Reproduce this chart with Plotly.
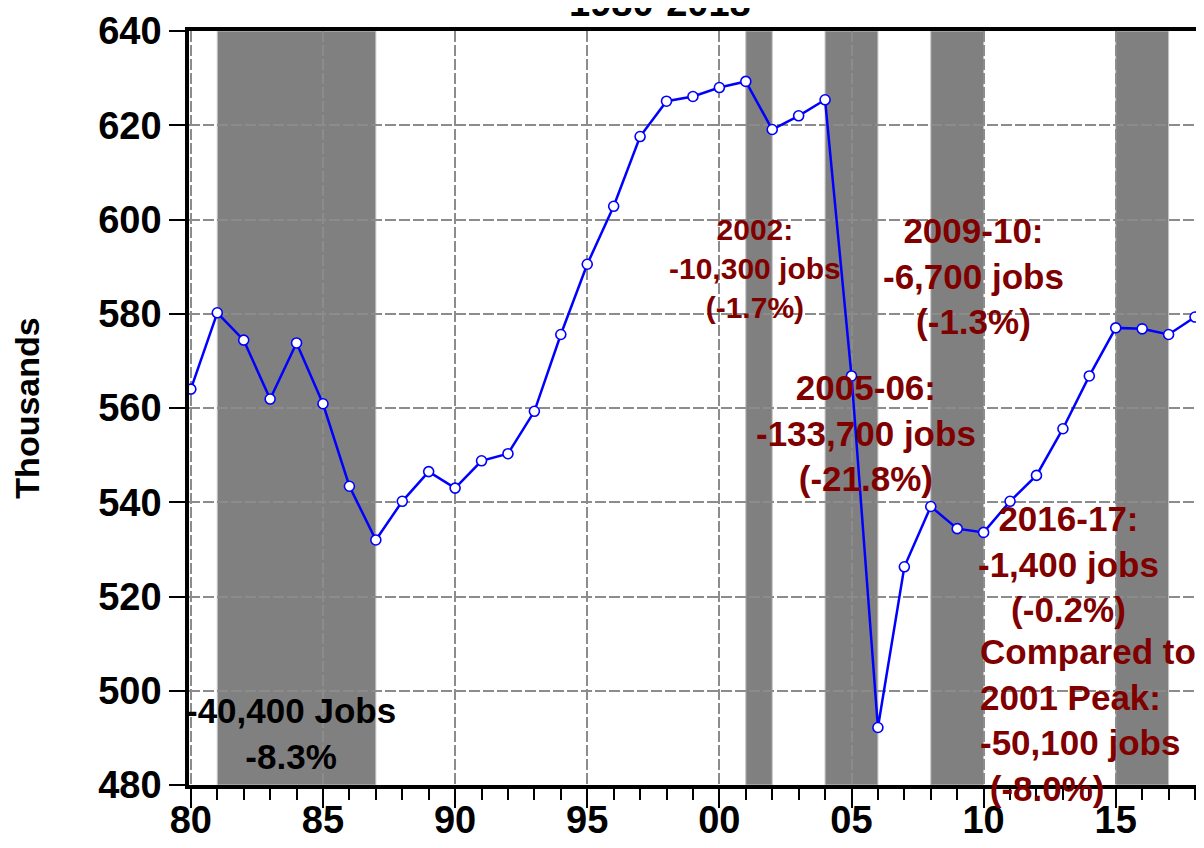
import plotly.graph_objects as go

# annual employment, thousands
years = list(range(1980, 2019))
jobs = [564.0, 580.2, 574.4, 561.9, 573.8, 560.9, 543.4, 532.0, 540.2, 546.5,
        543.0, 548.8, 550.3, 559.3, 575.6, 590.5, 602.8, 617.6, 625.1, 626.1,
        628.0, 629.3, 619.1, 622.0, 625.4, 566.8, 492.2, 526.3, 539.1, 534.4,
        533.6, 540.2, 545.7, 555.6, 566.8, 577.0, 576.8, 575.6, 579.3]

# shaded periods
shade_start = [1981, 2001, 2004, 2008, 2015]
shade_end = [1987, 2002, 2006, 2010, 2017]

xtick_vals = [1980, 1985, 1990, 1995, 2000, 2005, 2010, 2015]
xtick_text = ["80", "85", "90", "95", "00", "05", "10", "15"]
ytick_vals = [480, 500, 520, 540, 560, 580, 600, 620, 640]

FONT = "Liberation Sans, Arial, sans-serif"
RED = "#800000"

fig = go.Figure()

fig.add_trace(go.Scatter(
    x=years, y=jobs, mode="lines+markers",
    line=dict(color="#0000ff", width=2.5),
    marker=dict(symbol="circle", size=10, color="white",
                line=dict(color="#0000ff", width=1.6)),
    cliponaxis=False, showlegend=False,
))

for s, e in zip(shade_start, shade_end):
    fig.add_shape(type="rect", xref="x", yref="paper", x0=s, x1=e, y0=0, y1=1,
                  fillcolor="#808080", line=dict(color="#c4c4c4", width=1),
                  layer="between")

# text notes
notes = [
    ("-40,400 Jobs<br>-8.3%", 1983.8, 491.0, "black", 35, "center", "center"),
    ("2002:<br>-10,300 jobs<br>(-1.7%)", 2001.33, 589.7, RED, 30, "center", "center"),
    ("2009-10:<br>-6,700 jobs<br>(-1.3%)", 2009.6, 588.1, RED, 35, "center", "center"),
    ("2005-06:<br>-133,700 jobs<br>(-21.8%)", 2005.53, 554.8, RED, 35, "center", "center"),
    ("2016-17:<br>-1,400 jobs<br>(-0.2%)", 2013.2, 527.0, RED, 35, "center", "center"),
    ("Compared to<br>2001 Peak:<br>-50,100 jobs<br>\u00a0(-8.0%)", 2009.77, 493.7, RED, 35, "left", "left"),
]
for txt, x, y, col, size, align, xanchor in notes:
    fig.add_annotation(text=txt, x=x, y=y, xref="x", yref="y", showarrow=False,
                       align=align, xanchor=xanchor, yanchor="middle",
                       font=dict(family=FONT, size=size, color=col, weight="bold"))

# title sits partly above the top edge, as in the source image
fig.add_annotation(text="1980-2018", xref="paper", yref="paper", x=0.466, y=1.0371,
                   xanchor="center", yanchor="middle", showarrow=False,
                   font=dict(family=FONT, size=38, color="black", weight="bold"))

# page body adds an 8px offset, so the figure is a bit smaller than the window
fig.update_layout(
    width=1196, height=840,
    margin=dict(l=181, r=5, t=23, b=63, autoexpand=False),
    paper_bgcolor="white", plot_bgcolor="white",
    font=dict(family=FONT, color="black"),
    showlegend=False,
)

fig.update_xaxes(
    range=[1979.93, 2018.15], tickmode="array", tickvals=xtick_vals, ticktext=xtick_text,
    ticks="outside", ticklen=19, tickwidth=1.5, tickcolor="black",
    tickfont=dict(family=FONT, size=38, color="black", weight="bold"),
    ticklabelstandoff=-20,
    showline=True, linewidth=3.5, linecolor="black", mirror=True,
    showgrid=True, gridcolor="#8c8c8c", gridwidth=1.5, griddash="11px,3px",
    minor=dict(tickmode="linear", tick0=1980, dtick=1, ticks="outside", ticklen=11,
               tickwidth=1.5, tickcolor="black", showgrid=False),
    zeroline=False, automargin=False,
)
fig.update_yaxes(
    range=[480, 640], tickmode="array", tickvals=ytick_vals,
    ticks="outside", ticklen=16, tickwidth=1.5, tickcolor="black",
    tickfont=dict(family=FONT, size=38, color="black", weight="bold"),
    showline=True, linewidth=3.5, linecolor="black", mirror=True,
    showgrid=True, gridcolor="#8c8c8c", gridwidth=1.5, griddash="11px,3px",
    zeroline=False, automargin=False,
    title=dict(text="Thousands", standoff=50,
               font=dict(family=FONT, size=34, color="black", weight="bold")),
)

fig.write_html("out.html")
